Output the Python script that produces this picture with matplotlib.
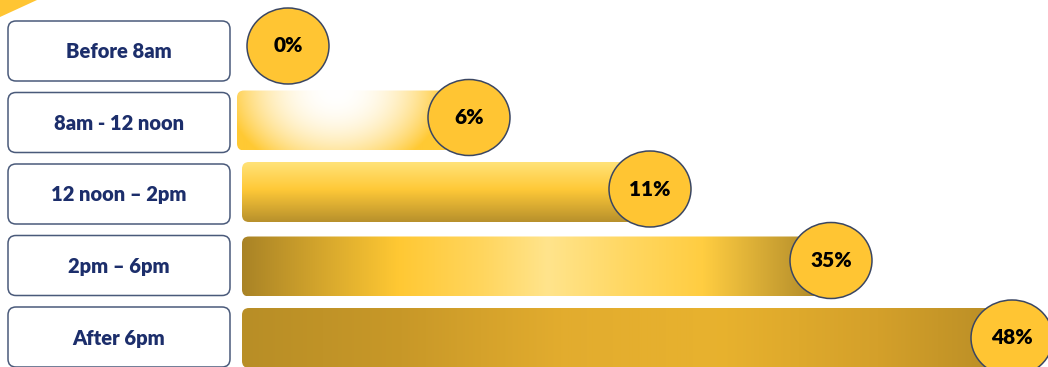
import numpy as np
import matplotlib
matplotlib.use("Agg")
import matplotlib.pyplot as plt
from matplotlib.patches import FancyBboxPatch, Ellipse, Polygon

# ---- data ----
categories = ["Before 8am", "8am - 12 noon", "12 noon \u2013 2pm", "2pm \u2013 6pm", "After 6pm"]
values = [0, 6, 11, 35, 48]
value_labels = ["0%", "6%", "11%", "35%", "48%"]

# ---- layout (pixel-based constants) ----
W, H = 1048, 367
X0, DX = 288.0, 181.0       # pixel of rank 0, pixels per rank step
Y0, DY = 51.0, 71.5         # pixel of row 0 centre, pixels per row
ASP = DX / DY

def px(v):
    return v / DX

def py(v):
    return v / DY

fig = plt.figure(figsize=(W / 100, H / 100), dpi=100)
ax = fig.add_axes([0, 0, 1, 1])
ax.set_axis_off()

plt.rcParams['font.family'] = ['Lato', 'DejaVu Sans']

# rank-based positions for the bubbles (infographic spacing)
pos = np.argsort(np.argsort(values)).astype(float)
rows = np.arange(len(categories), dtype=float)

navy = "#1C2E6B"
box_edge = "#4A5A7A"
gold = np.array([255, 201, 51]) / 255.0

# label boxes
box_left, box_w, box_h = px(8 - X0), px(222), py(60)
for r, cat in zip(rows, categories):
    p = FancyBboxPatch((box_left, r - box_h / 2), box_w, box_h,
                       boxstyle=f"round,pad=0,rounding_size={px(8)}",
                       mutation_aspect=ASP, facecolor="white",
                       edgecolor=box_edge, linewidth=1.1, zorder=2)
    ax.add_patch(p)
    ax.text(box_left + box_w / 2, r + py(1), cat, ha="center", va="center",
            fontsize=14.5, fontweight="heavy", color=navy, zorder=5)

def stops_grad(u, stops):
    xs = [s[0] for s in stops]
    cols = np.array([s[1] for s in stops]) / 255.0
    return np.stack([np.interp(u, xs, cols[:, k]) for k in range(3)], axis=-1)

def bar_image(kind, nw=300, nh=60):
    u = np.linspace(0, 1, nw)[None, :].repeat(nh, 0)
    v = np.linspace(0, 1, nh)[:, None].repeat(nw, 1)
    if kind == 1:
        d = np.sqrt(((u - 0.45) / 0.5) ** 2 + (v / 1.45) ** 2)
        s = np.clip(d, 0, 1) ** 2.2
        img = (1 - s)[..., None] * np.ones(3) + s[..., None] * gold
    elif kind == 2:
        img = stops_grad(v, [(0.0, (255, 226, 120)), (0.45, (255, 201, 56)),
                             (1.0, (184, 145, 44))])
    elif kind == 3:
        img = stops_grad(u, [(0.0, (169, 131, 38)), (0.27, (255, 200, 51)),
                             (0.42, (255, 214, 95)), (0.53, (255, 228, 140)),
                             (0.66, (255, 216, 100)), (0.8, (255, 205, 65)),
                             (1.0, (176, 138, 42))])
    else:
        img = stops_grad(u, [(0.0, (184, 142, 38)), (0.21, (200, 152, 40)),
                             (0.42, (226, 172, 46)), (0.63, (232, 178, 46)),
                             (0.84, (212, 160, 42)), (1.0, (186, 142, 38))])
    return img

bar_left = px(242 - X0)
bar_h = py(60)
bar_end_off = px(12)
for i, (r, val, xp) in enumerate(zip(rows, values, pos)):
    if val <= 0:
        continue
    x1 = xp - bar_end_off
    yc = r - py(2) if i < 3 else r + py(1)
    x0 = bar_left - (px(5) if i == 1 else 0)
    clip = FancyBboxPatch((x0, yc - bar_h / 2), x1 - x0, bar_h,
                          boxstyle=f"round,pad=0,rounding_size={px(7)}",
                          mutation_aspect=ASP, facecolor="none",
                          edgecolor="none", zorder=2)
    ax.add_patch(clip)
    im = ax.imshow(bar_image(i), extent=[x0, x1, yc + bar_h / 2, yc - bar_h / 2],
                   aspect="auto", interpolation="bilinear", zorder=2)
    im.set_clip_path(clip)

# bubbles
ew, eh = px(82), py(76)
for i, (r, xp, lab) in enumerate(zip(rows, pos, value_labels)):
    yc = r - py(5) if i < 4 else r + py(1)
    e = Ellipse((xp, yc), ew, eh, facecolor="#FFC533", edgecolor="#3A4662",
                linewidth=1.1, zorder=4)
    ax.add_patch(e)
    ax.text(xp, yc, lab, ha="center", va="center", fontsize=15,
            fontweight="heavy", color="black", zorder=6)

# decorative corner triangle
tri = Polygon([[px(0 - X0), py(0 - Y0)], [px(37 - X0), py(0 - Y0)],
               [px(0 - X0), py(17 - Y0)]], closed=True, facecolor="#FFC533",
              edgecolor="none", zorder=1)
ax.add_patch(tri)

ax.set_xlim(px(0 - X0), px(W - X0))
ax.set_ylim(py(H - Y0), py(0 - Y0))

fig.savefig("out.png", dpi=100, facecolor="white")
